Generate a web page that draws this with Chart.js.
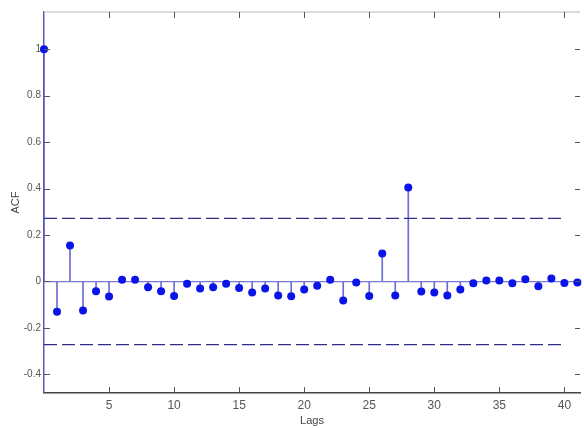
<!DOCTYPE html>
<html>
<head>
<meta charset="utf-8">
<script src="https://cdn.jsdelivr.net/npm/chart.js@4.4.0/dist/chart.umd.min.js"></script>
<style>
html,body{margin:0;padding:0;background:#fff;}
#wrap{width:584px;height:428px;}
</style>
</head>
<body>
<div id="wrap"><canvas id="c" width="584" height="428"></canvas></div>
<script>
// ---- data ----
const lags = [0,1,2,3,4,5,6,7,8,9,10,11,12,13,14,15,16,17,18,19,20,21,22,23,24,25,26,27,28,29,30,31,32,33,34,35,36,37,38,39,40,41];
const acf = [1,-0.13,0.155,-0.125,-0.042,-0.065,0.007,0.007,-0.025,-0.042,-0.063,-0.01,-0.03,-0.025,-0.01,-0.028,-0.047,-0.03,-0.06,-0.064,-0.035,-0.018,0.008,-0.082,-0.004,-0.062,0.12,-0.06,0.405,-0.043,-0.047,-0.06,-0.035,-0.008,0.004,0.004,-0.008,0.01,-0.02,0.013,-0.006,-0.004];
const confBound = 0.272;
const confLags = [0, 40];
const xTickValues = [5,10,15,20,25,30,35,40];
const yTickValues = [-0.4,-0.2,0,0.2,0.4,0.6,0.8,1];
const xTitle = 'Lags';
const yTitle = 'ACF';

const pts = lags.map((l,i)=>({x:l,y:acf[i]}));
const upper = confLags.map(l=>({x:l,y:confBound}));
const lower = confLags.map(l=>({x:l,y:-confBound}));

const FONT = "'Liberation Sans Narrow','Arial Narrow','Liberation Sans',Arial,sans-serif";

const axesPlugin = {
  id:'matlabAxes',
  afterDraw(chart){
    const ctx = chart.ctx, a = chart.chartArea;
    const xs = chart.scales.x, ys = chart.scales.y;
    ctx.save();
    // top border
    ctx.strokeStyle = '#cfcfcf'; ctx.lineWidth = 1.5;
    ctx.beginPath(); ctx.moveTo(a.left, a.top); ctx.lineTo(a.right, a.top); ctx.stroke();
    // ticks
    ctx.strokeStyle = '#555'; ctx.lineWidth = 1;
    xTickValues.forEach(v=>{
      const px = Math.round(xs.getPixelForValue(v))+0.5;
      ctx.beginPath(); ctx.moveTo(px,a.bottom); ctx.lineTo(px,a.bottom-6); ctx.stroke();
      ctx.beginPath(); ctx.moveTo(px,a.top); ctx.lineTo(px,a.top+6); ctx.stroke();
    });
    yTickValues.forEach(v=>{
      const py = Math.round(ys.getPixelForValue(v))+0.5;
      ctx.beginPath(); ctx.moveTo(a.left,py); ctx.lineTo(a.left+6,py); ctx.stroke();
      ctx.beginPath(); ctx.moveTo(a.right,py); ctx.lineTo(a.right-5,py); ctx.stroke();
    });
    ctx.restore();
  }
};

new Chart(document.getElementById('c'), {
  data: {
    datasets: [
      { type:'bar', data: pts, backgroundColor:'#6c6cd6', barThickness:1, grouped:false, order:3 },
      { type:'line', data: upper, borderColor:'#2e2e8a', borderWidth:1.3, borderDash:[13,5], pointRadius:0, order:2 },
      { type:'line', data: lower, borderColor:'#2e2e8a', borderWidth:1.3, borderDash:[13,5], pointRadius:0, order:2 },
      { type:'scatter', data: pts, backgroundColor:'#0a14e6', borderColor:'#0a14e6', pointRadius:4, pointBorderWidth:0, clip:false, order:0 }
    ]
  },
  options: {
    responsive:false,
    devicePixelRatio:1,
    animation:false,
    layout:{ padding:{ top:12, right:0, left:0, bottom:0 } },
    plugins:{ legend:{display:false}, tooltip:{enabled:false} },
    scales:{
      x:{
        type:'linear', min:0, max:41.2, offset:false,
        afterBuildTicks(s){ s.ticks = xTickValues.map(v=>({value:v})); },
        afterFit(s){ s.height = 35; },
        grid:{ drawOnChartArea:false, drawTicks:false, offset:false },
        border:{ display:true, color:'#444', width:1.5 },
        ticks:{ padding:5, color:'#555', font:{ family:FONT, size:12 }, maxRotation:0, autoSkip:false },
        title:{ display:true, text:xTitle, color:'#444', font:{ family:FONT, size:11 }, padding:{top:0,bottom:0} }
      },
      y:{
        type:'linear', min:-0.48, max:1.16,
        afterBuildTicks(s){ s.ticks = yTickValues.map(v=>({value:v})); },
        afterFit(s){ s.width = 44; },
        grid:{ drawTicks:false, color:(c)=> (c.tick && c.tick.value===0) ? '#7a7ad6' : 'rgba(0,0,0,0)', lineWidth:1.2 },
        border:{ display:true, color:'#5a5ab4', width:1.5 },
        ticks:{ padding:3, color:'#555', font:{ family:FONT, size:10 }, autoSkip:false,
          callback:(v)=> String(Math.round(v*10)/10) },
        title:{ display:true, text:yTitle, color:'#444', font:{ family:FONT, size:11 }, padding:{top:9,bottom:4} }
      }
    }
  },
  plugins:[axesPlugin]
});
</script>
</body>
</html>
